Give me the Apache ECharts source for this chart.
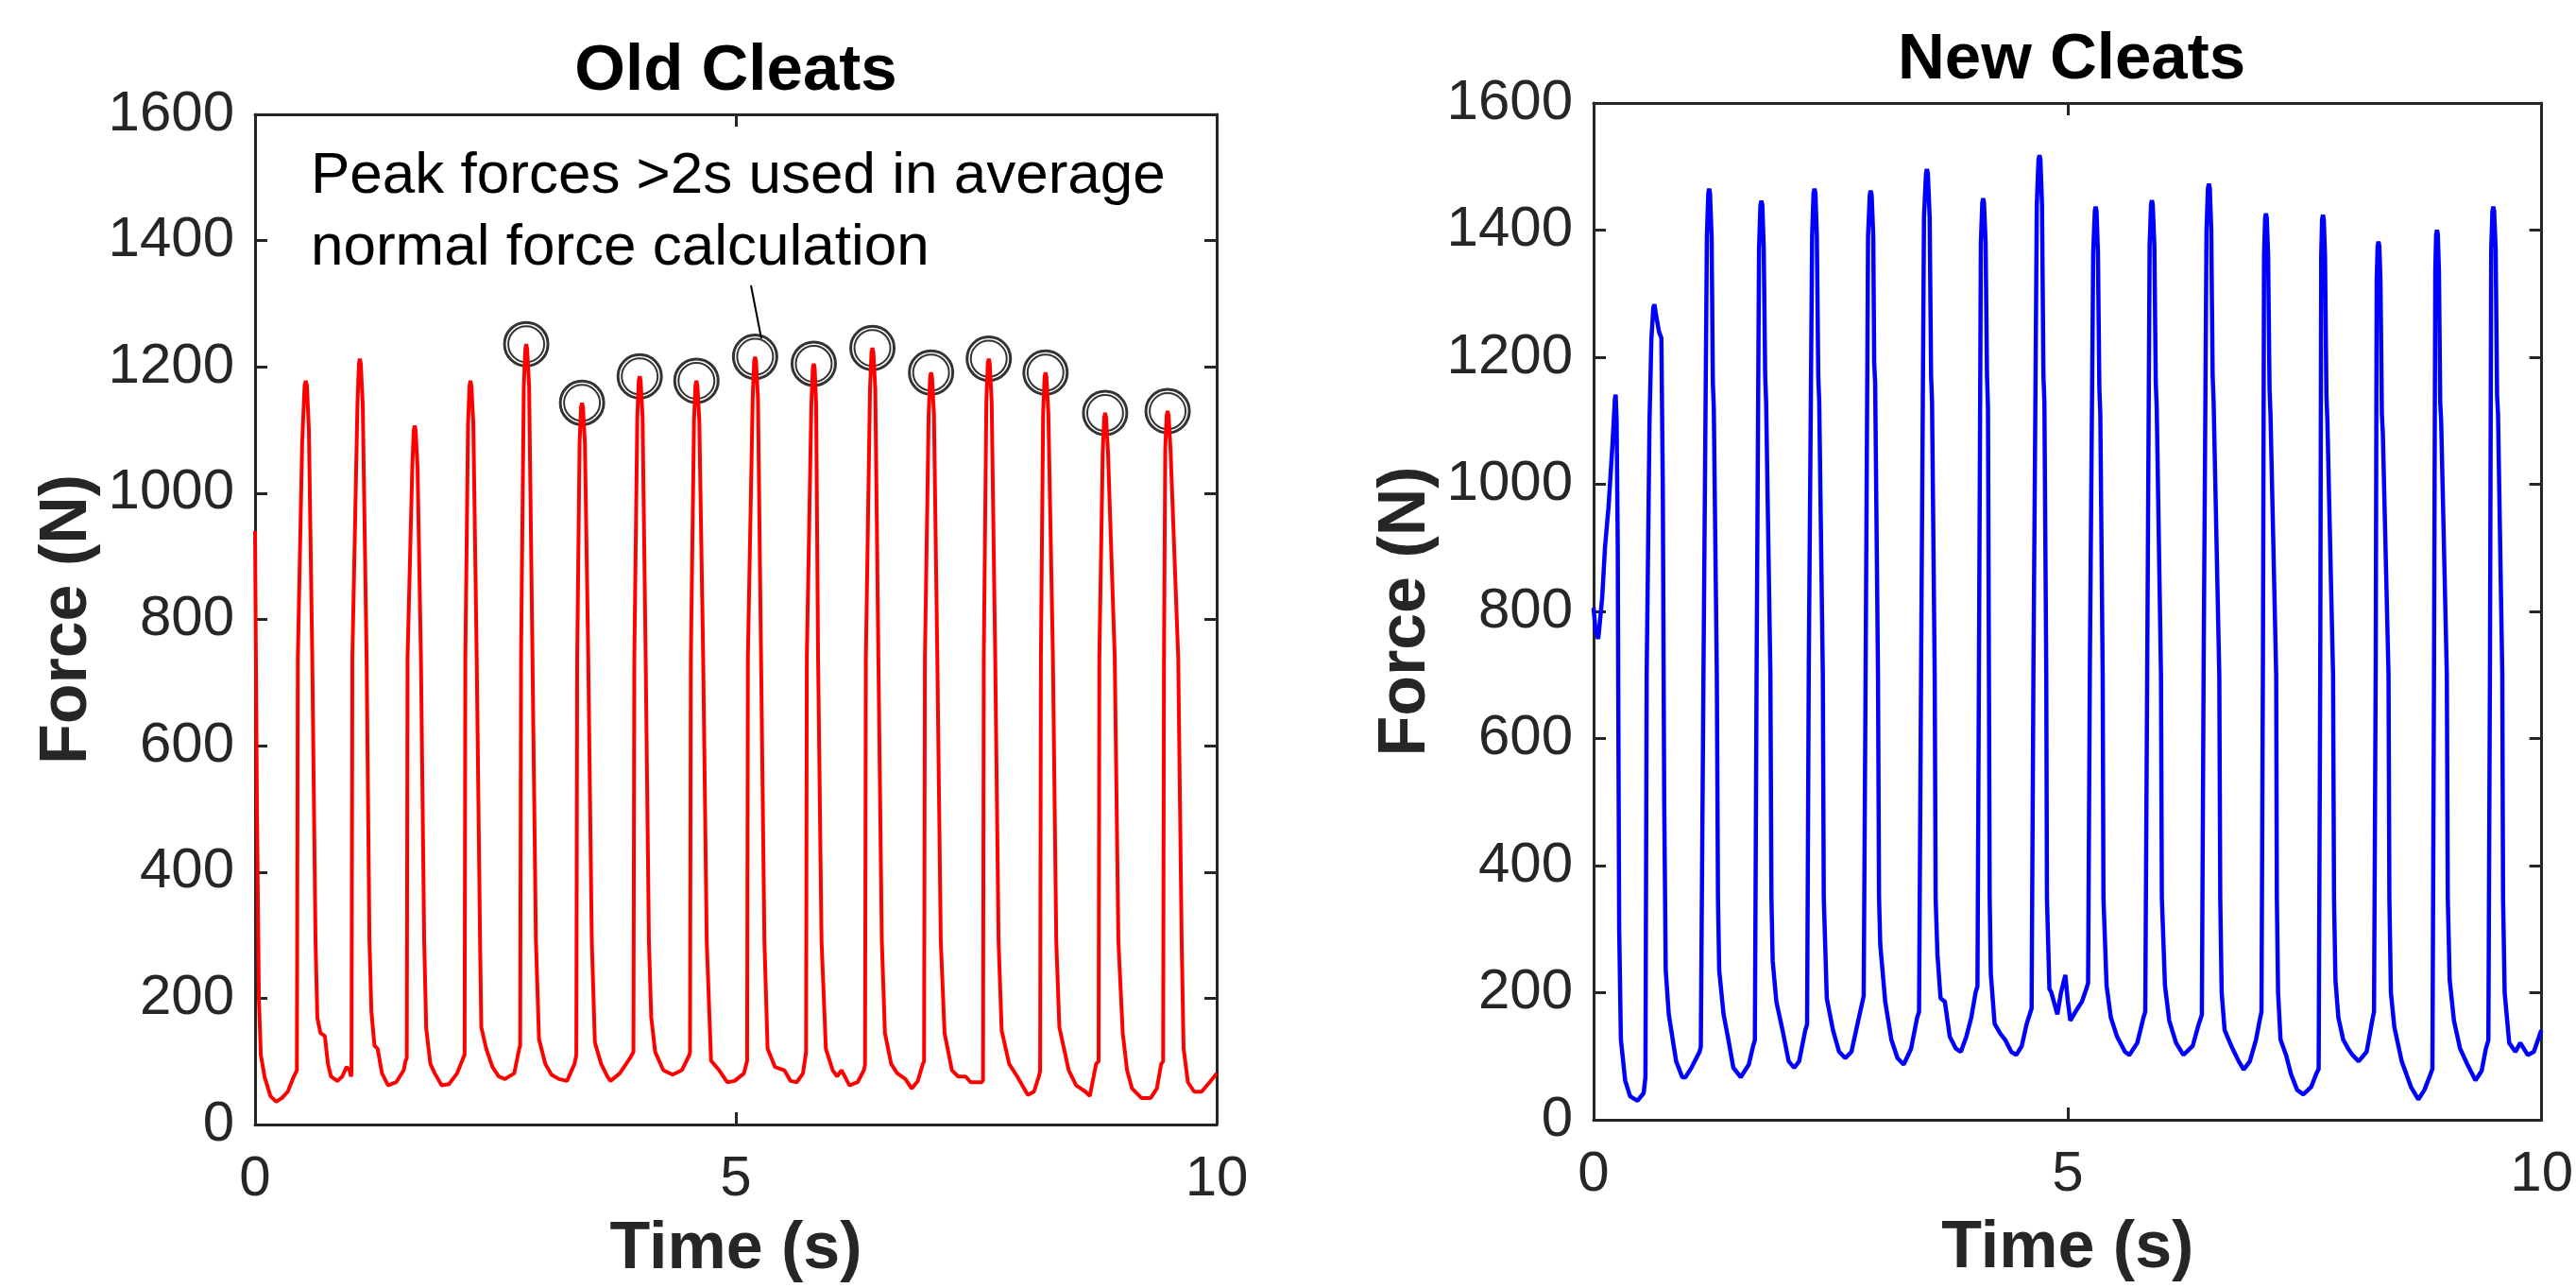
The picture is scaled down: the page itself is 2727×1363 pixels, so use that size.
<!DOCTYPE html>
<html>
<head>
<meta charset="utf-8">
<script src="https://cdn.jsdelivr.net/npm/echarts@6/dist/echarts.min.js"></script>
<style>
html,body{margin:0;padding:0;background:#fff;}
#chart{width:2727px;height:1363px;}
</style>
</head>
<body>
<div id="chart"></div>
<script>
// ---- data (time in s, force in N) ----
const xTicks = [0, 5, 10];
const yTicks = [0, 200, 400, 600, 800, 1000, 1200, 1400, 1600];
const titles = ['Old Cleats', 'New Cleats'];
const annotationLines = ['Peak forces >2s used in average', 'normal force calculation'];

const oldCleats = [
[0,940],[0.02,500],[0.04,200],[0.06,110],[0.1,75],[0.16,45],[0.22,36],[0.28,42],[0.34,52],[0.40,75],[0.435,86],
[0.445,740],[0.49,1080],[0.515,1170],[0.527,1178],[0.54,1170],[0.56,1100],[0.595,740],[0.629,290],
[0.648,169],[0.68,145],[0.726,140],[0.758,96],[0.79,76],[0.855,69],[0.906,76],[0.952,91],[0.984,86],[0.997,76],[1.003,80],
[1.012,740],[1.065,1140],[1.08,1205],[1.09,1213],[1.10,1205],[1.12,1140],[1.16,740],[1.19,290],
[1.21,179],[1.242,125],[1.275,120],[1.32,81],[1.384,62],[1.468,67],[1.546,86],[1.565,101],[1.578,105],
[1.586,740],[1.635,1040],[1.65,1100],[1.66,1107],[1.67,1100],[1.69,1040],[1.725,740],[1.759,290],
[1.78,152],[1.823,96],[1.869,81],[1.94,62],[2.017,64],[2.101,81],[2.166,106],[2.179,110],
[2.187,740],[2.215,1110],[2.23,1170],[2.24,1178],[2.25,1170],[2.27,1110],[2.305,740],[2.34,290],
[2.353,154],[2.404,120],[2.469,91],[2.534,76],[2.598,72],[2.695,81],[2.747,120],[2.757,125],
[2.766,740],[2.795,1170],[2.81,1228],[2.82,1236],[2.83,1228],[2.85,1170],[2.885,740],[2.921,290],
[2.953,135],[3.018,96],[3.082,79],[3.16,72],[3.244,69],[3.322,96],[3.341,110],
[3.35,740],[3.375,1080],[3.39,1136],[3.40,1143],[3.41,1136],[3.43,1080],[3.465,740],[3.502,290],
[3.534,130],[3.599,96],[3.664,76],[3.696,69],[3.793,81],[3.903,106],[3.935,115],
[3.944,740],[3.975,1120],[3.99,1178],[4.00,1185],[4.01,1178],[4.03,1120],[4.062,740],[4.096,290],
[4.12,170],[4.161,115],[4.245,86],[4.342,79],[4.438,86],[4.516,110],[4.523,115],
[4.532,740],[4.565,1115],[4.58,1171],[4.59,1178],[4.60,1171],[4.62,1115],[4.66,740],[4.697,290],
[4.742,101],[4.826,86],[4.91,67],[4.987,69],[5.084,81],[5.117,101],
[5.125,740],[5.175,1150],[5.19,1209],[5.20,1216],[5.21,1209],[5.23,1150],[5.262,740],[5.297,290],
[5.33,120],[5.407,91],[5.504,86],[5.569,69],[5.633,67],[5.698,81],[5.73,115],
[5.738,740],[5.785,1140],[5.80,1198],[5.81,1205],[5.82,1198],[5.835,1140],[5.855,740],[5.891,290],
[5.936,120],[6.007,86],[6.053,76],[6.098,86],[6.182,62],[6.266,67],[6.331,86],[6.343,95],
[6.352,740],[6.395,1165],[6.41,1223],[6.42,1230],[6.43,1223],[6.45,1165],[6.482,740],[6.518,290],
[6.55,145],[6.615,96],[6.679,81],[6.763,72],[6.828,57],[6.892,69],[6.944,96],[6.957,100],
[6.966,740],[7.005,1125],[7.02,1184],[7.03,1191],[7.04,1184],[7.06,1125],[7.095,740],[7.131,290],
[7.17,145],[7.247,86],[7.312,76],[7.39,76],[7.441,67],[7.518,67],[7.557,67],[7.57,70],
[7.578,740],[7.605,1145],[7.62,1206],[7.63,1213],[7.64,1206],[7.66,1145],[7.697,740],[7.732,290],
[7.764,149],[7.842,96],[7.926,76],[8.035,47],[8.1,52],[8.151,76],[8.164,85],
[8.172,740],[8.195,1125],[8.21,1184],[8.22,1191],[8.23,1184],[8.25,1125],[8.297,740],[8.332,290],
[8.364,154],[8.461,86],[8.539,62],[8.636,52],[8.681,45],[8.746,96],[8.772,100],
[8.78,740],[8.815,1065],[8.83,1120],[8.84,1127],[8.85,1120],[8.87,1065],[8.94,740],[8.978,290],
[9.023,145],[9.068,86],[9.12,57],[9.217,42],[9.314,42],[9.378,57],[9.423,96],[9.443,100],
[9.452,740],[9.465,1070],[9.48,1123],[9.49,1130],[9.50,1123],[9.52,1070],[9.60,740],[9.636,290],
[9.656,120],[9.701,67],[9.766,52],[9.843,52],[9.927,67],[10.0,81]
];

const newCleats = [
[0,806],[0.02,770],[0.049,757],[0.09,820],[0.12,900],[0.158,965],[0.2,1065],[0.225,1135],[0.233,1141],[0.243,1100],[0.255,900],[0.262,600],[0.27,300],
[0.288,126],[0.333,62],[0.385,37],[0.463,30],[0.528,42],[0.547,67],
[0.56,700],[0.59,1100],[0.61,1230],[0.63,1278],[0.642,1283],[0.655,1270],[0.69,1240],[0.715,1230],[0.73,1000],[0.745,500],[0.761,235],
[0.793,166],[0.819,141],[0.871,92],[0.936,67],[0.968,67],[1.033,82],[1.118,107],[1.131,115],
[1.16,721],[1.195,1390],[1.21,1458],[1.219,1465],[1.228,1458],[1.245,1390],[1.258,1160],[1.268,1120],[1.30,700],[1.312,349],[1.325,235],
[1.371,166],[1.422,126],[1.474,82],[1.552,67],[1.637,87],[1.682,116],[1.701,125],
[1.72,720],[1.745,1370],[1.76,1439],[1.77,1446],[1.78,1439],[1.795,1370],[1.81,1170],[1.82,1130],[1.865,700],[1.876,349],[1.889,250],
[1.928,186],[1.993,141],[2.058,92],[2.116,82],[2.168,92],[2.233,141],[2.252,150],
[2.27,720],[2.305,1390],[2.32,1458],[2.33,1465],[2.34,1458],[2.355,1390],[2.37,1170],[2.38,1130],[2.418,700],[2.428,349],
[2.46,191],[2.525,141],[2.59,107],[2.655,97],[2.72,107],[2.784,151],[2.836,186],[2.849,195],
[2.87,720],[2.895,1390],[2.913,1455],[2.923,1462],[2.933,1455],[2.95,1390],[2.96,1190],[2.97,1160],[3.0,700],[3.011,349],[3.024,275],
[3.076,186],[3.141,126],[3.206,97],[3.271,87],[3.349,112],[3.413,161],[3.433,170],
[3.455,720],[3.485,1420],[3.506,1489],[3.516,1496],[3.526,1489],[3.545,1420],[3.56,1170],[3.57,1130],[3.598,700],[3.608,349],[3.627,260],
[3.66,191],[3.705,186],[3.757,131],[3.822,112],[3.874,107],[3.932,131],[3.984,161],[4.03,201],[4.049,210],
[4.065,720],[4.085,1380],[4.1,1443],[4.109,1450],[4.118,1443],[4.135,1380],[4.15,1170],[4.16,1120],[4.17,700],[4.178,349],[4.19,230],
[4.23,151],[4.289,136],[4.341,126],[4.406,107],[4.458,102],[4.516,116],[4.568,151],[4.62,175],
[4.64,720],[4.675,1440],[4.693,1511],[4.703,1518],[4.713,1511],[4.73,1440],[4.745,1170],[4.755,1130],[4.775,700],[4.782,349],[4.808,206],
[4.827,201],[4.892,166],[4.93,200],[4.976,228],[5.0,190],[5.028,156],[5.087,171],[5.151,186],[5.197,206],[5.216,215],
[5.235,720],[5.27,1365],[5.287,1430],[5.296,1437],[5.305,1430],[5.32,1365],[5.335,1150],[5.345,1110],[5.37,700],[5.378,349],[5.411,211],
[5.456,161],[5.521,131],[5.605,107],[5.651,102],[5.735,121],[5.8,161],[5.819,170],
[5.84,720],[5.865,1375],[5.88,1440],[5.889,1447],[5.898,1440],[5.915,1375],[5.93,1160],[5.94,1120],[5.985,700],[5.994,349],[6.027,211],
[6.072,156],[6.144,121],[6.221,102],[6.319,116],[6.384,151],[6.416,165],
[6.435,720],[6.465,1400],[6.48,1466],[6.49,1473],[6.5,1466],[6.515,1400],[6.53,1170],[6.54,1130],[6.60,700],[6.61,349],[6.625,200],
[6.656,141],[6.727,116],[6.805,92],[6.857,79],[6.922,92],[6.987,126],[7.032,161],[7.045,170],
[7.06,720],[7.072,1360],[7.083,1419],[7.092,1426],[7.101,1419],[7.115,1360],[7.13,1150],[7.14,1110],[7.20,700],[7.207,349],[7.22,200],
[7.246,126],[7.304,102],[7.356,72],[7.421,47],[7.486,40],[7.57,52],[7.622,72],[7.648,80],
[7.665,720],[7.675,1360],[7.684,1417],[7.693,1424],[7.702,1417],[7.715,1360],[7.73,1140],[7.74,1100],[7.80,700],[7.81,349],[7.825,220],
[7.856,161],[7.907,126],[7.959,112],[8.005,102],[8.07,92],[8.154,107],[8.219,161],[8.232,170],
[8.25,720],[8.26,1320],[8.27,1375],[8.279,1382],[8.288,1375],[8.3,1320],[8.315,1110],[8.325,1080],[8.385,700],[8.394,349],[8.41,200],
[8.446,146],[8.524,92],[8.621,52],[8.699,32],[8.764,47],[8.828,72],[8.848,80],
[8.865,720],[8.878,1335],[8.887,1393],[8.896,1400],[8.905,1393],[8.917,1335],[8.93,1130],[8.94,1100],[9.0,700],[9.01,349],[9.03,220],
[9.075,156],[9.14,112],[9.217,87],[9.302,62],[9.367,77],[9.412,112],[9.438,125],
[9.455,720],[9.468,1370],[9.481,1430],[9.49,1437],[9.499,1430],[9.515,1370],[9.53,1140],[9.54,1110],[9.585,700],[9.593,349],[9.61,200],
[9.658,121],[9.723,107],[9.775,121],[9.853,102],[9.918,107],[9.996,141]
];

// peaks after 2 s that are circled in the "Old Cleats" panel
const circledPeakTimes  = [2.82, 3.40, 4.00, 4.59, 5.20, 5.81, 6.42, 7.03, 7.63, 8.22, 8.84, 9.49];
const circledPeakForces = [1236, 1143, 1185, 1178, 1216, 1205, 1230, 1191, 1213, 1191, 1127, 1130];
// arrow of the annotation (data coordinates)
const arrowFrom = [5.157, 1329];
const arrowTo   = [5.265, 1245];

// ---- chart ----
const FONT = '"Liberation Sans", Arial, Helvetica, sans-serif';
const AX = '#262626';
const grids = [
  {left: 270, top: 121, width: 1018, height: 1078},
  {left: 1687, top: 109, width: 1013, height: 1076}
];

function xAx(gi, pos, labels, gap) {
  return {
    type: 'value', gridIndex: gi, position: pos, min: 0, max: 10, interval: 5,
    axisLine: {show: true, onZero: false, lineStyle: {color: AX, width: 3}},
    axisTick: {show: true, inside: true, length: 13, lineStyle: {color: AX, width: 3}},
    axisLabel: {show: labels, fontSize: 60, fontFamily: FONT, color: AX, margin: 28,
                formatter: v => String(v)},
    splitLine: {show: false},
    name: labels ? 'Time (s)' : '', nameLocation: 'middle', nameGap: gap || 0,
    nameTextStyle: {fontSize: 70, fontWeight: 'bold', fontFamily: FONT, color: AX}
  };
}
function yAx(gi, pos, labels) {
  return {
    type: 'value', gridIndex: gi, position: pos, min: 0, max: 1600, interval: 200,
    axisLine: {show: true, onZero: false, lineStyle: {color: AX, width: 3}},
    axisTick: {show: true, inside: true, length: 13, lineStyle: {color: AX, width: 3}},
    axisLabel: {show: labels, fontSize: 60, fontFamily: FONT, color: AX, margin: 22,
                formatter: v => String(v)},
    splitLine: {show: false},
    name: labels ? 'Force (N)' : '', nameLocation: 'middle', nameGap: 163,
    nameTextStyle: {fontSize: 70, fontWeight: 'bold', fontFamily: FONT, color: AX}
  };
}

const circleData = circledPeakTimes.map((t, i) => [t, circledPeakForces[i]]);

const option = {
  animation: false,
  backgroundColor: '#ffffff',
  title: [
    {text: titles[0], left: 779, top: 41, textAlign: 'center', padding: 0,
     textStyle: {fontSize: 69, fontWeight: 'bold', fontFamily: FONT, color: '#000'}},
    {text: titles[1], left: 2193, top: 29, textAlign: 'center', padding: 0,
     textStyle: {fontSize: 69, fontWeight: 'bold', fontFamily: FONT, color: '#000'}}
  ],
  grid: grids,
  xAxis: [xAx(0, 'bottom', true, 98), xAx(0, 'top', false), xAx(1, 'bottom', true, 102), xAx(1, 'top', false)],
  yAxis: [yAx(0, 'left', true), yAx(0, 'right', false), yAx(1, 'left', true), yAx(1, 'right', false)],
  graphic: [
    {type: 'text', left: 329, top: 156, silent: true,
     style: {text: annotationLines[0], fontSize: 62, fontFamily: FONT, fill: '#000'}},
    {type: 'text', left: 329, top: 232, silent: true,
     style: {text: annotationLines[1], fontSize: 62, fontFamily: FONT, fill: '#000'}}
  ],
  series: [
    {type: 'line', name: 'Old Cleats', xAxisIndex: 0, yAxisIndex: 0, data: oldCleats,
     showSymbol: false, lineStyle: {color: '#ff0000', width: 4}, clip: true,
     markLine: {silent: true, symbol: ['none', 'arrow'], symbolSize: [0, 16],
       label: {show: false}, lineStyle: {type: 'solid', color: '#000', width: 2},
       data: [[{coord: arrowFrom}, {coord: arrowTo}]]}},
    {type: 'scatter', xAxisIndex: 0, yAxisIndex: 0, data: circleData, symbol: 'circle', symbolSize: 46,
     itemStyle: {color: 'rgba(0,0,0,0)', borderColor: '#000', borderWidth: 3}, silent: true},
    {type: 'scatter', xAxisIndex: 0, yAxisIndex: 0, data: circleData, symbol: 'circle', symbolSize: 38,
     itemStyle: {color: 'rgba(0,0,0,0)', borderColor: '#000', borderWidth: 2}, silent: true},
    {type: 'line', name: 'New Cleats', xAxisIndex: 2, yAxisIndex: 2, data: newCleats,
     showSymbol: false, lineStyle: {color: '#0000ff', width: 4.5}, clip: true}
  ]
};

const chart = echarts.init(document.getElementById('chart'));
chart.setOption(option);
</script>
</body>
</html>
